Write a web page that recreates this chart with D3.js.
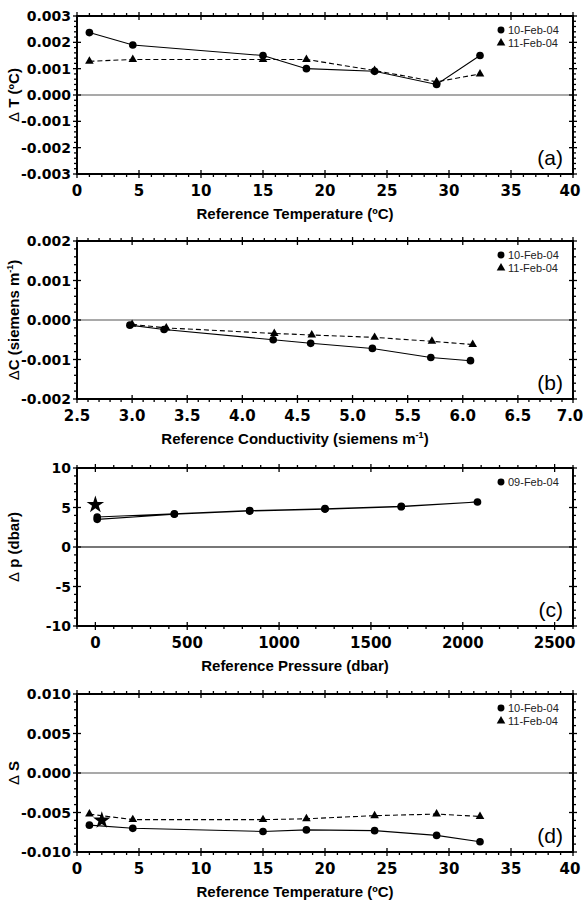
<!DOCTYPE html>
<html>
<head>
<meta charset="utf-8">
<script src="https://cdn.jsdelivr.net/npm/d3@7"></script>
<style>
body { margin: 0; background: #fff; }
text { font-family: "Liberation Sans", Arial, sans-serif; }
.tick-label { font-family: "DejaVu Sans", sans-serif; font-weight: bold; }
</style>
</head>
<body>
<div id="chart"></div>
<script>
// panel (a) temperature
const tempX = [1, 4.5, 15, 18.5, 24, 29, 32.5];
const dT_feb10 = [0.00237, 0.0019, 0.0015, 0.001, 0.0009, 0.0004, 0.0015];
const dT_feb11 = [0.00128, 0.00135, 0.00135, 0.00135, 0.00093, 0.0005, 0.0008];

// panel (b) conductivity
const condX_feb10 = [2.98, 3.29, 4.28, 4.62, 5.18, 5.71, 6.07];
const dC_feb10 = [-0.00013, -0.00024, -0.0005, -0.00059, -0.00072, -0.00095, -0.00103];
const condX_feb11 = [3.0, 3.31, 4.29, 4.63, 5.2, 5.72, 6.09];
const dC_feb11 = [-0.00011, -0.0002, -0.00034, -0.00038, -0.00044, -0.00054, -0.00062];

// panel (c) pressure (down and up)
const presX = [10, 430, 840, 1250, 1665, 2080, 1665, 1250, 840, 430, 10];
const dP_feb09 = [3.5, 4.15, 4.55, 4.8, 5.1, 5.7, 5.15, 4.85, 4.6, 4.2, 3.8];
const presStar = [0, 5.35];

// panel (d) salinity
const dS_feb10 = [-0.0066, -0.0070, -0.0074, -0.0072, -0.0073, -0.0079, -0.0087];
const dS_feb11 = [-0.0052, -0.0059, -0.0059, -0.0058, -0.0054, -0.0052, -0.0055];
const salStar = [2, -0.0060];

const W = 583, H = 901;
const left = 77, right = 573;

const svg = d3.select("#chart").append("svg")
    .attr("width", W).attr("height", H);

function zip(xs, ys) {
    return xs.map((x, i) => [x, ys[i]]);
}

function drawPanel(cfg) {
    var top = cfg.top, bottom = cfg.top + 158;
    var x = d3.scaleLinear().domain(cfg.xDomain).range([left, right]);
    var y = d3.scaleLinear().domain(cfg.yDomain).range([bottom, top]);
    var g = svg.append("g");

    // zero line
    g.append("line")
        .attr("x1", left).attr("x2", right)
        .attr("y1", y(0)).attr("y2", y(0))
        .attr("stroke", cfg.zeroColor || "#555").attr("stroke-width", cfg.zeroWidth || 1.2);

    // minor ticks (outward), majors crossing
    var tickG = g.append("g").attr("stroke", "#000").attr("stroke-width", 1.3);
    var xMinor = d3.range(Math.ceil(cfg.xDomain[0] / cfg.xMinor) * cfg.xMinor, cfg.xDomain[1] + 1e-9, cfg.xMinor);
    var yMinor = d3.range(Math.ceil(cfg.yDomain[0] / cfg.yMinor - 1e-6) * cfg.yMinor, cfg.yDomain[1] + 1e-12, cfg.yMinor);
    xMinor.forEach(v => {
        var isMajor = cfg.xTicks.some(t => Math.abs(t - v) < cfg.xMinor / 10);
        var a = isMajor ? 4 : 0, b = isMajor ? 4 : 3;
        tickG.append("line").attr("x1", x(v)).attr("x2", x(v)).attr("y1", bottom - a).attr("y2", bottom + b);
        tickG.append("line").attr("x1", x(v)).attr("x2", x(v)).attr("y1", top + a).attr("y2", top - b);
    });
    yMinor.forEach(v => {
        var isMajor = cfg.yTicks.some(t => Math.abs(t - v) < cfg.yMinor / 10);
        var a = isMajor ? 4 : 0, b = isMajor ? 4 : 3;
        tickG.append("line").attr("y1", y(v)).attr("y2", y(v)).attr("x1", left + a).attr("x2", left - b);
        tickG.append("line").attr("y1", y(v)).attr("y2", y(v)).attr("x1", right - a).attr("x2", right + b);
    });

    // frame
    g.append("rect")
        .attr("x", left).attr("y", top)
        .attr("width", right - left).attr("height", bottom - top)
        .attr("fill", "none").attr("stroke", "#000").attr("stroke-width", 2);

    // tick labels
    g.selectAll(".xl").data(cfg.xTicks).enter().append("text")
        .attr("class", "tick-label").attr("font-size", 15)
        .attr("x", d => Math.min(x(d), W - 13)).attr("y", bottom + 22)
        .attr("text-anchor", "middle")
        .text(cfg.xFormat);
    g.selectAll(".yl").data(cfg.yTicks).enter().append("text")
        .attr("class", "tick-label").attr("font-size", 14)
        .attr("x", left - 6).attr("y", d => y(d) + 5)
        .attr("text-anchor", "end")
        .text(cfg.yFormat);

    // axis titles
    var xt = g.append("text")
        .attr("x", 295).attr("y", bottom + 45)
        .attr("text-anchor", "middle")
        .attr("font-size", 15).attr("font-weight", "bold");
    cfg.xTitle(xt);
    var yt = g.append("text")
        .attr("transform", "translate(19," + (top + bottom) / 2 + ") rotate(-90)")
        .attr("text-anchor", "middle")
        .attr("font-size", 15).attr("font-weight", "bold");
    cfg.yTitle(yt);

    // series
    var line = d3.line().x(d => x(d[0])).y(d => y(d[1]));
    cfg.series.forEach(s => {
        g.append("path").datum(s.points)
            .attr("d", line).attr("fill", "none")
            .attr("stroke", "#000").attr("stroke-width", 1.1)
            .attr("stroke-dasharray", s.dashed ? "5,3" : null);
        g.selectAll(null).data(s.points).enter().append("path")
            .attr("transform", d => "translate(" + x(d[0]) + "," + y(d[1]) + ")")
            .attr("d", d3.symbol().type(s.symbol).size(s.symbol === d3.symbolCircle ? 46 : 32))
            .attr("fill", "#000");
    });
    if (cfg.star) {
        g.append("path")
            .attr("transform", "translate(" + x(cfg.star[0]) + "," + y(cfg.star[1]) + ")")
            .attr("d", d3.symbol().type(d3.symbolStar).size(95))
            .attr("fill", "#000");
    }

    // legend
    cfg.series.filter(s => s.label).forEach((s, i) => {
        var ly = top + 14 + i * 13;
        g.append("path")
            .attr("transform", "translate(501," + ly + ")")
            .attr("d", d3.symbol().type(s.symbol).size(s.symbol === d3.symbolCircle ? 38 : 32))
            .attr("fill", "#000");
        g.append("text").attr("x", 508).attr("y", ly + 4)
            .attr("font-size", 11).attr("fill", "#222").text(s.label);
    });

    // panel label
    g.append("text")
        .attr("x", 563).attr("y", bottom - 9)
        .attr("text-anchor", "end")
        .attr("font-size", 21).text(cfg.tag);
}

function plainTitle(str) {
    return t => t.text(str);
}
function deltaTitle(sym, rest, sup, tail) {
    return t => {
        t.append("tspan").attr("font-weight", "normal").text("\u0394");
        t.append("tspan").text(sym + rest);
        if (sup) {
            t.append("tspan").attr("font-size", 9).attr("dy", -6).text(sup);
            t.append("tspan").attr("dy", 6).text(tail);
        }
    };
}

drawPanel({
    top: 16, tag: "(a)",
    xDomain: [0, 40], xTicks: d3.range(0, 41, 5), xMinor: 1, xFormat: d => d,
    yDomain: [-0.003, 0.003], yTicks: [-0.003, -0.002, -0.001, 0, 0.001, 0.002, 0.003], yMinor: 0.0002,
    yFormat: d => d.toFixed(3),
    xTitle: plainTitle("Reference Temperature (\u00baC)"),
    yTitle: deltaTitle(" T", " (\u00baC)"),
    series: [
        { label: "10-Feb-04", symbol: d3.symbolCircle, dashed: false, points: zip(tempX, dT_feb10) },
        { label: "11-Feb-04", symbol: d3.symbolTriangle, dashed: true, points: zip(tempX, dT_feb11) }
    ]
});

drawPanel({
    top: 241, tag: "(b)",
    xDomain: [2.5, 7.0], xTicks: d3.range(2.5, 7.01, 0.5), xMinor: 0.1, xFormat: d => d.toFixed(1),
    yDomain: [-0.002, 0.002], yTicks: [-0.002, -0.001, 0, 0.001, 0.002], yMinor: 0.0002,
    yFormat: d => d.toFixed(3),
    xTitle: t => {
        t.append("tspan").text("Reference Conductivity (siemens m");
        t.append("tspan").attr("font-size", 9).attr("dy", -6).text("-1");
        t.append("tspan").attr("dy", 6).text(")");
    },
    yTitle: deltaTitle("C", " (siemens m", "-1", ")"),
    series: [
        { label: "10-Feb-04", symbol: d3.symbolCircle, dashed: false, points: zip(condX_feb10, dC_feb10) },
        { label: "11-Feb-04", symbol: d3.symbolTriangle, dashed: true, points: zip(condX_feb11, dC_feb11) }
    ]
});

drawPanel({
    top: 468, tag: "(c)", zeroColor: "#777", zeroWidth: 2,
    xDomain: [-100, 2600], xTicks: d3.range(0, 2501, 500), xMinor: 100, xFormat: d => d,
    yDomain: [-10, 10], yTicks: [-10, -5, 0, 5, 10], yMinor: 1,
    yFormat: d => d,
    xTitle: plainTitle("Reference Pressure (dbar)"),
    yTitle: deltaTitle(" p", " (dbar)"),
    series: [
        { label: "09-Feb-04", symbol: d3.symbolCircle, dashed: false, points: zip(presX, dP_feb09) }
    ],
    star: presStar
});

drawPanel({
    top: 694, tag: "(d)",
    xDomain: [0, 40], xTicks: d3.range(0, 41, 5), xMinor: 1, xFormat: d => d,
    yDomain: [-0.010, 0.010], yTicks: [-0.010, -0.005, 0, 0.005, 0.010], yMinor: 0.001,
    yFormat: d => d.toFixed(3),
    xTitle: plainTitle("Reference Temperature (\u00baC)"),
    yTitle: deltaTitle(" S", ""),
    series: [
        { label: "10-Feb-04", symbol: d3.symbolCircle, dashed: false, points: zip(tempX, dS_feb10) },
        { label: "11-Feb-04", symbol: d3.symbolTriangle, dashed: true, points: zip(tempX, dS_feb11) }
    ],
    star: salStar
});
</script>
</body>
</html>
